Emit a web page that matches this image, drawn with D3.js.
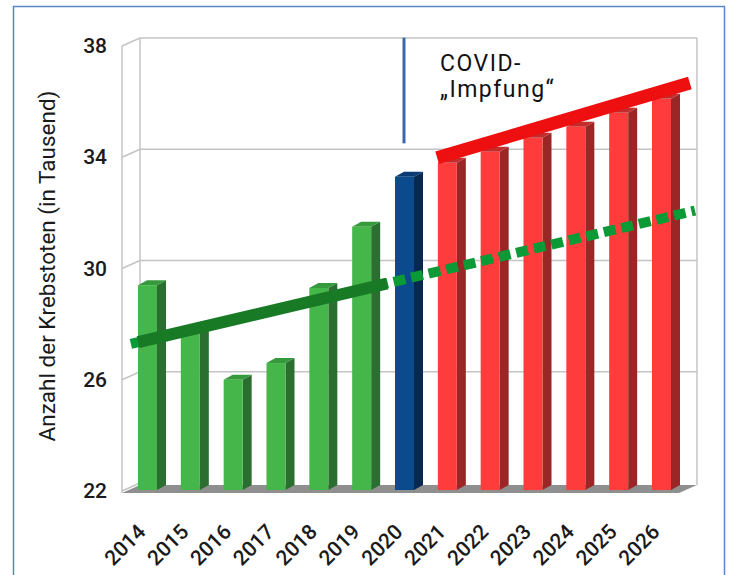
<!DOCTYPE html>
<html>
<head>
<meta charset="utf-8">
<script src="https://cdn.jsdelivr.net/npm/d3@7"></script>
<style>
  html, body { margin: 0; padding: 0; background: #fff; }
  svg { display: block; }
</style>
</head>
<body>
<svg id="chart" width="735" height="575"></svg>
<script>
// Krebstote pro Jahr (in Tausend)
const years  = [2014, 2015, 2016, 2017, 2018, 2019, 2020, 2021, 2022, 2023, 2024, 2025, 2026];
const deaths = [29.4, 27.7, 26.0, 26.6, 29.3, 31.5, 33.3, 33.8, 34.2, 34.7, 35.1, 35.6, 36.1];
const phases = ["vor", "vor", "vor", "vor", "vor", "vor", "covid", "nach", "nach", "nach", "nach", "nach", "nach"];
const yTicks = [22, 26, 30, 34, 38];

// Trendlinien als [Jahr, Wert]
const trendBefore   = [[2013.77, 27.35], [2019.58, 29.46]];
const trendExtended = [[2013.60, 27.29], [2026.77, 32.08]];
const trendAfter    = [[2020.75, 33.98], [2026.65, 36.67]];

// Markierung Impfbeginn
const markerYear  = 2020;
const markerRange = [34.5, 38.3];
const annotation  = ["COVID-", "\u201EImpfung\u201C"];
const yTitle = "Anzahl der Krebstoten (in Tausend)";

const palette = {
  vor:   { front: "#45b649", side: "#2b6f30", top: "#369a3d" },
  covid: { front: "#0c4a8e", side: "#08284f", top: "#0a3a72" },
  nach:  { front: "#ff3c3c", side: "#9a2626", top: "#c22c2c" }
};

const svg = d3.select("#chart");

// Rahmen
svg.append("rect")
  .attr("x", 13.5).attr("y", 6.5).attr("width", 711).attr("height", 620)
  .attr("fill", "#fff").attr("stroke", "#5a86c6").attr("stroke-width", 1.5);

const x = d3.scaleLinear().domain([2014, 2026]).range([148, 662]);
const y = d3.scaleLinear().domain([22, 38]).range([491, 46]);

// 3D-Versatz der Wände und Säulen
const wall = { front: 122, back: 140, right: 697, dx: 18, dy: -8 };
const bar  = { left: 10, width: 19, dx: 9, dy: -5 };

const grid = svg.append("g").attr("stroke", "#c4c4c4").attr("stroke-width", 1.5).attr("fill", "none");

// Boden
const y0 = y(22);
svg.insert("polygon", "g")
  .attr("points", [
    [wall.front, y0 + 2], [wall.right - wall.dx, y0 + 2],
    [wall.right, y0 + 2 + wall.dy], [wall.back, y0 + 2 + wall.dy]
  ].map(p => p.join(",")).join(" "))
  .attr("fill", "#8f8f8f");

yTicks.forEach(t => {
  const yf = y(t), yb = y(t) + wall.dy;
  if (t > 22) {
    grid.append("line").attr("x1", wall.back).attr("x2", wall.right).attr("y1", yb).attr("y2", yb);
  }
  grid.append("line").attr("x1", wall.front).attr("x2", wall.back).attr("y1", yf).attr("y2", yb);
});
grid.append("line").attr("x1", wall.front).attr("x2", wall.front).attr("y1", y(38)).attr("y2", y(22) + 2);
grid.append("line").attr("x1", wall.back).attr("x2", wall.back).attr("y1", y(38) + wall.dy).attr("y2", y(22) + wall.dy);
grid.append("line").attr("x1", wall.right).attr("x2", wall.right).attr("y1", y(38) + wall.dy).attr("y2", y(22) + wall.dy + 2);

// Y-Achse
const yAxis = svg.append("g");
yAxis.selectAll("text").data(yTicks).join("text")
  .attr("x", 107).attr("y", d => y(d))
  .attr("text-anchor", "end").attr("dominant-baseline", "central")
  .attr("font-family", "Roboto, sans-serif").attr("font-weight", 500)
  .attr("font-size", 21).attr("fill", "#1a1a1a")
  .text(d => d);

svg.append("text")
  .attr("transform", `translate(55, 266) rotate(-90)`)
  .attr("text-anchor", "middle")
  .attr("font-family", "Roboto, sans-serif").attr("font-size", 22.5)
  .attr("fill", "#1a1a1a")
  .text(yTitle);

// Säulen
const bars = svg.append("g");
years.forEach((yr, i) => {
  const c = palette[phases[i]];
  const xl = x(yr) - bar.left, xr = xl + bar.width;
  const yt = y(deaths[i]), yb = y(22) - 1;
  const g = bars.append("g");
  g.append("polygon")
    .attr("points", [[xr, yt], [xr + bar.dx, yt + bar.dy], [xr + bar.dx, yb + bar.dy], [xr, yb]].map(p => p.join(",")).join(" "))
    .attr("fill", c.side);
  g.append("polygon")
    .attr("points", [[xl, yt], [xl + bar.dx, yt + bar.dy], [xr + bar.dx, yt + bar.dy], [xr, yt]].map(p => p.join(",")).join(" "))
    .attr("fill", c.top);
  g.append("rect")
    .attr("x", xl).attr("y", yt).attr("width", bar.width).attr("height", yb - yt)
    .attr("fill", c.front);
});

// X-Achse
svg.append("g").selectAll("text").data(years).join("text")
  .attr("transform", d => `translate(${x(d) - 1}, 533) rotate(-45)`)
  .attr("text-anchor", "end")
  .attr("font-family", "Roboto, sans-serif").attr("font-weight", 500)
  .attr("font-size", 21).attr("fill", "#1a1a1a")
  .text(d => d);

// Trendlinien
const line = d3.line().x(d => x(d[0])).y(d => y(d[1]));
svg.append("path").datum(trendExtended).attr("d", line)
  .attr("fill", "none").attr("stroke", "#0c9a36").attr("stroke-width", 10)
  .attr("stroke-dasharray", "12 6");
svg.append("path").datum(trendBefore).attr("d", line)
  .attr("fill", "none").attr("stroke", "#187a25").attr("stroke-width", 12);
svg.append("path").datum(trendAfter).attr("d", line)
  .attr("fill", "none").attr("stroke", "#ee1010").attr("stroke-width", 13);

// Impfbeginn
svg.append("line")
  .attr("x1", x(markerYear) - 1).attr("x2", x(markerYear) - 1)
  .attr("y1", y(markerRange[1])).attr("y2", y(markerRange[0]))
  .attr("stroke", "#3c68aa").attr("stroke-width", 3);

svg.append("g").selectAll("text").data(annotation).join("text")
  .attr("x", 440).attr("y", (d, i) => 71 + i * 26)
  .attr("font-family", "Roboto, sans-serif").attr("font-size", 23)
  .attr("letter-spacing", 1.5).attr("fill", "#111")
  .text(d => d);
</script>
</body>
</html>
